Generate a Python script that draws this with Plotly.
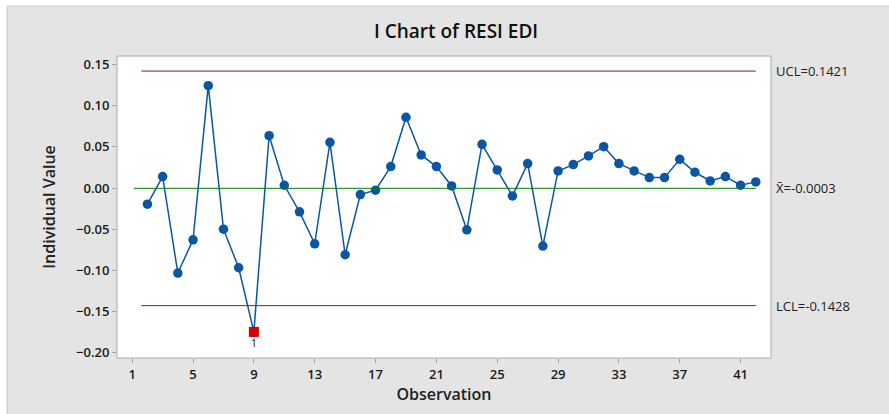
import plotly.graph_objects as go

# I chart of residuals (observation 1 has no residual)
obs = list(range(2, 43))
resid = [-0.0196, 0.0139, -0.1032, -0.0628, 0.1244, -0.0499, -0.0968, -0.1747, 0.0636,
         0.0034, -0.0289, -0.0677, 0.0556, -0.0810, -0.0079, -0.0026, 0.0261, 0.0859,
         0.0402, 0.0261, 0.0026, -0.0507, 0.0531, 0.0220, -0.0095, 0.0297, -0.0705,
         0.0208, 0.0285, 0.0390, 0.0503, 0.0297, 0.0208, 0.0127, 0.0127, 0.0349,
         0.0192, 0.0087, 0.0139, 0.0034, 0.0075]
UCL, CL, LCL = 0.1421, -0.0003, -0.1428
x_ticks = [1, 5, 9, 13, 17, 21, 25, 29, 33, 37, 41]
y_ticks = [0.15, 0.10, 0.05, 0.00, -0.05, -0.10, -0.15, -0.20]

BLUE = '#0b56a4'
font = 'Open Sans, Segoe UI, sans-serif'

out_x = [o for o, r in zip(obs, resid) if r > UCL or r < LCL]
out_y = [r for r in resid if r > UCL or r < LCL]

fig = go.Figure()
fig.add_trace(go.Scatter(x=obs, y=resid, mode='lines+markers',
                         line=dict(color=BLUE, width=1.5),
                         marker=dict(color=BLUE, size=9.5), showlegend=False))
fig.add_trace(go.Scatter(x=out_x, y=out_y, mode='markers+text', text=['1'] * len(out_x),
                         textposition='bottom center',
                         textfont=dict(family=font, size=11, color='#222'),
                         marker=dict(color='#d40000', symbol='square', size=10),
                         showlegend=False))

# background panel and plot frame
fig.add_shape(type='rect', xref='paper', yref='paper', x0=-0.168, x1=1.2, y0=-0.2, y1=1.165,
              fillcolor='#e4e4e4', line=dict(color='#c4c4c4', width=1), layer='below')
fig.add_shape(type='rect', xref='x domain', yref='y domain', x0=0, x1=1, y0=0, y1=1,
              fillcolor='white', line=dict(color='#a8a8a8', width=1), layer='below')

# control limits
for yv, col, x0 in [(UCL, '#8e1212', 1.6), (LCL, '#9e1414', 1.6), (CL, '#008000', 1.1)]:
    fig.add_shape(type='line', x0=x0, x1=42, y0=yv, y1=yv, line=dict(color=col, width=1))

labels = [(UCL, 'UCL=0.1421'), (CL, 'X̄=-0.0003'), (LCL, 'LCL=-0.1428')]
for yv, t in labels:
    fig.add_annotation(x=1, xref='paper', y=yv, yref='y', text=t, showarrow=False,
                       xanchor='left', xshift=3, font=dict(family=font, size=13, color='#222'))

fig.update_layout(
    width=889, height=414,
    margin=dict(l=117, r=118, t=56, b=56),
    paper_bgcolor='white', plot_bgcolor='rgba(0,0,0,0)',
    hovermode=False,
    title=dict(text='I Chart of RESI EDI', x=0.513, xanchor='center', y=0.925, yanchor='middle',
               font=dict(family=font, size=19, color='#111', weight=600)),
    font=dict(family=font, color='#222'),
)
fig.update_xaxes(range=[0, 43], tickvals=x_ticks, showgrid=False, zeroline=False,
                 ticks='outside', ticklen=4, tickcolor='#a0a0a0',
                 tickfont=dict(size=13, weight=600, color='#1a1a1a'),
                 title=dict(text='Observation', font=dict(size=16, weight=600), standoff=2))
fig.update_yaxes(range=[-0.2064, 0.1604], tickvals=y_ticks, tickformat='.2f',
                 showgrid=False, zeroline=False,
                 ticks='outside', ticklen=4, tickcolor='#a0a0a0',
                 tickfont=dict(size=13, weight=600, color='#1a1a1a'),
                 title=dict(text='Individual Value', font=dict(size=16, weight=600), standoff=16))

fig.write_html('out.html', config={'displayModeBar': False},
               post_script="document.body.style.margin='0';")
